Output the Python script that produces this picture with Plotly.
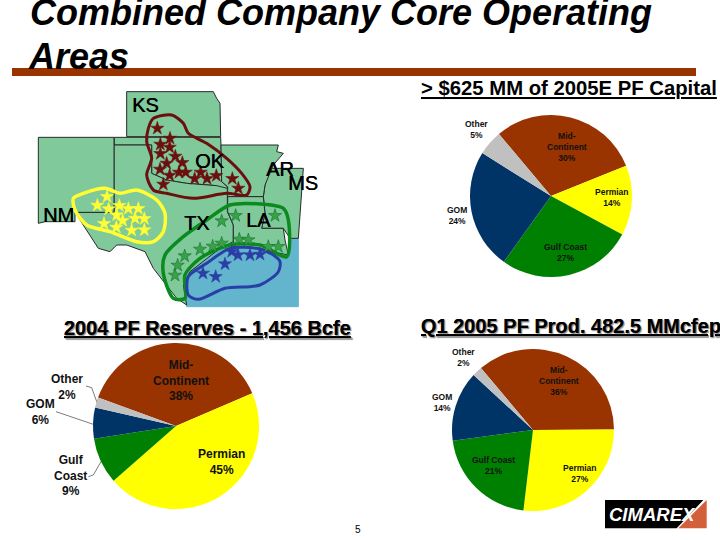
import plotly.graph_objects as go

# ---- data ----
capital_labels = ["Mid-<br>Continent", "Permian", "Gulf Coast", "GOM", "Other"]
capital_values = [30, 14, 27, 24, 5]
reserves_labels = ["Mid-<br>Continent", "Permian", "Gulf<br>Coast", "GOM", "Other"]
reserves_values = [38, 45, 9, 6, 2]
production_labels = ["Mid-<br>Continent", "Permian", "Gulf Coast", "GOM", "Other"]
production_values = [36, 27, 21, 14, 2]
slice_colors = ["#993300", "#FFFF00", "#008000", "#003366", "#C0C0C0"]

title_lines = ["Combined Company Core Operating", "Areas"]
capital_title = "> $625 MM of 2005E PF Capital"
reserves_title = "2004 PF Reserves - 1,456 Bcfe"
production_title = "Q1 2005 PF Prod. 482.5 MMcfep"
state_names = ["KS", "OK", "AR", "MS", "NM", "TX", "LA"]

W, H = 720, 540
FONT = "Liberation Sans"


def Z(points, ox=20, oy=85):
    """Crop-scale sketch coordinates to page pixels."""
    return [p[0] / 3 + ox for p in points], [p[1] / 3 + oy for p in points]


fig = go.Figure()


def poly(points, fill, line="#2a2a2a", width=1):
    xs, ys = Z(points + points[:1])
    fig.add_trace(go.Scatter(x=xs, y=ys, mode="lines", fill="toself", fillcolor=fill,
                             line=dict(color=line, width=width), hoverinfo="skip", showlegend=False))


LAND = "#7FC99B"
poly([(810, 462), (835, 460), (835, 665), (500, 665), (490, 600), (510, 560), (560, 520), (600, 490),
      (640, 485), (720, 490), (780, 505), (805, 515)], "#63B5CE", line="#63B5CE")
poly([(320, 20), (580, 20), (590, 40), (600, 55), (602, 155), (320, 155)], LAND)
poly([(283, 157), (602, 157), (603, 180), (605, 290), (622, 305), (623, 335), (590, 302), (540, 298), (500, 295),
      (440, 285), (395, 265), (395, 180), (283, 180)], LAND)
poly([(282, 180), (395, 180), (395, 265), (440, 285), (500, 295), (540, 298), (590, 302), (622, 310), (622, 380),
      (640, 420), (640, 470), (600, 490), (560, 520), (510, 560), (490, 600), (500, 660), (470, 640), (430, 590),
      (400, 550), (375, 500), (320, 480), (290, 480), (270, 500), (235, 490), (205, 445), (165, 382), (282, 382)], LAND)
poly([(55, 157), (282, 157), (282, 382), (165, 382), (165, 410), (75, 410), (55, 415)], LAND)
poly([(750, 250), (850, 250), (835, 460), (810, 460), (790, 430), (725, 430), (735, 385), (730, 335), (735, 300)], LAND)
poly([(603, 180), (775, 180), (770, 200), (790, 205), (760, 240), (735, 300), (730, 335), (623, 335), (623, 305),
      (605, 290)], LAND)
poly([(623, 335), (730, 335), (735, 385), (725, 430), (790, 430), (795, 465), (805, 510), (780, 505), (720, 490),
      (640, 485), (640, 420), (623, 380)], LAND)


def loop(points, color, width=3):
    xs, ys = Z(points + points[:1])
    fig.add_trace(go.Scatter(x=xs, y=ys, mode="lines", line=dict(color=color, width=width, shape="spline", smoothing=0.8),
                             hoverinfo="skip", showlegend=False))


loop([(385, 130), (400, 100), (455, 90), (490, 115), (505, 145), (560, 175), (620, 220), (665, 265), (690, 305),
      (680, 330), (620, 325), (520, 340), (440, 325), (400, 315), (380, 270), (395, 220), (380, 170)], "#6B0F0F")
loop([(160, 340), (190, 325), (255, 310), (300, 325), (350, 315), (410, 345), (435, 385), (430, 440), (400, 470),
      (350, 470), (270, 440), (200, 420), (165, 375)], "#FFFF33", 3.5)
loop([(435, 510), (430, 565), (460, 640), (495, 640), (495, 570), (540, 520), (630, 480), (720, 480), (800, 515),
      (805, 405), (790, 370), (720, 357), (630, 360), (560, 405), (490, 455)], "#0B8A1E", 3.5)
loop([(505, 575), (505, 630), (535, 643), (615, 610), (720, 600), (775, 560), (780, 530), (760, 510), (710, 490),
      (630, 490), (560, 535)], "#2A3FA5", 3)


def stars(points, color, edge):
    xs, ys = Z(points)
    fig.add_trace(go.Scatter(x=xs, y=ys, mode="markers", hoverinfo="skip", showlegend=False,
                             marker=dict(symbol="star", size=10, color=color, line=dict(color=edge, width=0.5))))


stars([(412, 130), (450, 160), (421, 178), (449, 187), (421, 206), (466, 214), (487, 233), (440, 235), (420, 253),
       (449, 271), (477, 262), (497, 262), (542, 262), (524, 281), (561, 281), (589, 272), (430, 298), (637, 281),
       (655, 310)], "#6B0F0F", "#6B0F0F")
stars([(261, 335), (232, 361), (266, 372), (298, 362), (325, 371), (355, 371), (290, 390), (345, 400), (373, 401),
       (308, 407), (252, 416), (289, 427), (335, 436), (373, 435)], "#FFFF33", "#FFFF33")
stars([(605, 408), (647, 392), (765, 392), (658, 463), (685, 465), (605, 475), (578, 484), (540, 493), (494, 513),
       (473, 541), (465, 571), (745, 485), (775, 485)], "#3BA04A", "#0B6B1E")
stars([(635, 500), (654, 510), (690, 510), (720, 508), (615, 537), (549, 565), (587, 575)], "#2A3FA5", "#2A3FA5")


# leader lines of the reserves pie
def leader(points):
    xs, ys = Z(points, 20, 315)
    fig.add_trace(go.Scatter(x=xs, y=ys, mode="lines", line=dict(color="#444444", width=0.7),
                             hoverinfo="skip", showlegend=False))


leader([(198, 213), (215, 218), (232, 265)])
leader([(108, 290), (220, 328)])
leader([(205, 485), (220, 480), (243, 440)])

# logo
xs, ys = Z([(585, 570), (880, 570), (800, 655), (585, 655), (585, 570)], 410, 310)
fig.add_trace(go.Scatter(x=xs, y=ys, mode="lines", fill="toself", fillcolor="#000000", line=dict(color="#000000", width=0),
                         hoverinfo="skip", showlegend=False))
xs, ys = Z([(890, 570), (890, 655), (805, 655), (890, 570)], 410, 310)
fig.add_trace(go.Scatter(x=xs, y=ys, mode="lines", fill="toself", fillcolor="#D2603A", line=dict(color="#D2603A", width=0),
                         hoverinfo="skip", showlegend=False))


# pies
def pie(labels, values, cx, cy, r, rotation):
    fig.add_trace(go.Pie(labels=[l.replace("<br>", " ") for l in labels], values=values, sort=False,
                         direction="clockwise", rotation=rotation,
                         marker=dict(colors=slice_colors, line=dict(width=0)), textinfo="none", hoverinfo="skip",
                         showlegend=False,
                         domain=dict(x=[(cx - r) / W, (cx + r) / W], y=[1 - (cy + r) / H, 1 - (cy - r) / H])))


pie(capital_labels, capital_values, 551, 196, 81, -40)
pie(reserves_labels, reserves_values, 176, 426, 83, -70)
pie(production_labels, production_values, 533, 430, 81, -40)

ann = []


def text(x, y, s, size, bold=False, color="#000000", xanchor="center", italic=False, shadow=None, yanchor="middle"):
    f = dict(family=FONT, size=size, color=color, weight="bold" if bold else "normal",
             style="italic" if italic else "normal")
    if shadow:
        f["shadow"] = shadow
    ann.append(dict(x=x / W, y=1 - y / H, xref="paper", yref="paper", text=s, showarrow=False, font=f,
                    xanchor=xanchor, yanchor=yanchor, align="center", xshift=0, yshift=0, borderpad=0, borderwidth=0))


text(30, 13, title_lines[0], 36, bold=True, italic=True, xanchor="left")
text(28, 56, title_lines[1], 36, bold=True, italic=True, xanchor="left")
text(421, 88, f"<u>{capital_title}</u>", 20.3, bold=True, xanchor="left")
text(64, 328, f"<u>{reserves_title}</u>", 20, bold=True, xanchor="left", shadow="1px 1px 1px #999999")
text(421, 326, f"<u>{production_title}</u>", 20, bold=True, xanchor="left", shadow="1px 1px 1px #999999")

for name, (x, y) in zip(state_names, [(145, 105), (210, 161), (280, 169), (303, 183), (58, 215), (197, 223), (258, 220)]):
    text(x, y, name, 20, shadow="0.4px 0 0 #000000")


def pie_labels(labels, values, where, size):
    for l, v, (x, y) in zip(labels, values, where):
        text(x, y, f"{l}<br>{v}%", size, bold=True, color="#111111")


pie_labels(capital_labels, capital_values, [(567, 147), (612, 197), (565, 252), (457, 215), (476, 130)], 8.5)
pie_labels(reserves_labels, reserves_values, [(181, 380), (221, 462), (70, 475), (40, 412), (67, 387)], 12)
pie_labels(production_labels, production_values, [(559, 381), (580, 473), (493, 465), (442, 402), (463, 357)], 8.5)

text(358, 529, "5", 10)
text(652.5, 514, "CIMAREX", 18.5, bold=True, italic=True, color="#FFFFFF")

fig.update_layout(
    width=W, height=H, margin=dict(l=0, r=0, t=0, b=0), autosize=False,
    paper_bgcolor="white", plot_bgcolor="white", annotations=ann,
    xaxis=dict(range=[0, W], visible=False, fixedrange=True, domain=[0, 1]),
    yaxis=dict(range=[H, 0], visible=False, fixedrange=True, domain=[0, 1]),
    shapes=[dict(type="rect", xref="x", yref="y", x0=12, x1=696, y0=68, y1=76, fillcolor="#993300", line_width=0)],
)
fig.write_html("out.html", config=dict(displayModeBar=False),
               post_script="document.body.style.margin='0';document.documentElement.style.overflow='hidden';")
